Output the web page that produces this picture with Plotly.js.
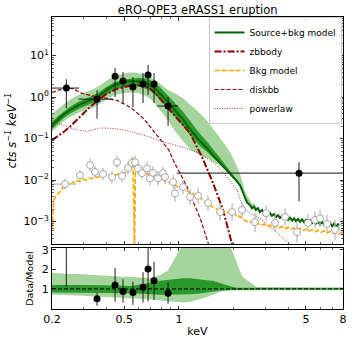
<!DOCTYPE html>
<html>
<head>
<meta charset="utf-8">
<script src="https://cdn.plot.ly/plotly-3.0.1.min.js"></script>
<style>
  body { margin: 0; background: white; }
  #chart { width: 353px; height: 344px; }
</style>
</head>
<body>
<div id="chart"></div>
<script>
// source spectrum, cts/s/keV
const srcE = [0.24, 0.354, 0.445, 0.492, 0.558, 0.634, 0.676, 0.729, 0.871, 4.58];
const srcRate = [1.65, 0.89, 3.2, 2.43, 1.74, 2.06, 3.4, 2.06, 0.61, 0.0147];
const srcElo = [0.20, 0.28, 0.435, 0.482, 0.548, 0.624, 0.666, 0.719, 0.757, 0.975];
const srcEhi = [0.282, 0.434, 0.455, 0.502, 0.568, 0.644, 0.686, 0.739, 0.99, 8.0];
const srcLo = [0.54, 0.30, 1.0, 0.70, 0.57, 0.72, 1.12, 0.72, 0.20, 0.0031];
const srcHi = [2.7, 1.47, 5.0, 4.0, 3.0, 3.8, 5.9, 3.8, 1.0, 0.027];

// data / model
const ratVal = [4.5, 0.49, 1.2, 0.87, 0.81, 1.09, 2.02, 1.42, 0.78, 12];
const ratLo = [1.1, 0.14, 0.34, 0.29, 0.19, 0.30, 0.36, 0.44, 0.24, 3.5];
const ratHi = [8, 0.80, 2.07, 1.5, 1.37, 1.86, 3.4, 2.39, 1.32, 20];

// background spectrum
const bkgE = [0.236, 0.285, 0.324, 0.345, 0.382, 0.428, 0.456, 0.486, 0.524, 0.551,
  0.573, 0.595, 0.626, 0.667, 0.693, 0.719, 0.767, 0.817, 0.838, 0.928,
  0.951, 1.053, 1.151, 1.274, 1.445, 1.683, 1.960, 2.224, 2.623, 3.02,
  3.380, 3.837, 4.467, 5.136, 5.612, 5.978, 6.535, 7.232, 7.902];
const bkgRate = [0.0080, 0.0130, 0.023, 0.0157, 0.0140, 0.0118, 0.027, 0.0125, 0.0195, 0.026,
  0.027, 0.019, 0.0147, 0.019, 0.011, 0.0150, 0.011, 0.0147, 0.0118, 0.0090,
  0.0048, 0.0068, 0.0039, 0.0042, 0.0028, 0.0017, 0.0017, 0.0019, 0.00097, 0.0016,
  0.00093, 0.0013, 0.00056, 0.00093, 0.0011, 0.0012, 0.00088, 0.00063, 0.00074];
const bkgErrUp = [0.35, 0.35, 0.45, 0.4, 0.4, 0.4, 0.45, 0.4, 0.45, 0.45,
  0.45, 0.45, 0.45, 0.45, 0.5, 0.45, 0.5, 0.45, 0.5, 0.5,
  0.6, 0.5, 0.55, 0.55, 0.55, 0.6, 0.6, 0.6, 0.7, 0.55,
  0.65, 0.6, 0.8, 0.65, 0.6, 0.6, 0.65, 0.75, 0.7];
const bkgErrDn = [0.25, 0.25, 0.3, 0.28, 0.28, 0.3, 0.3, 0.3, 0.3, 0.3,
  0.3, 0.3, 0.3, 0.3, 0.33, 0.3, 0.33, 0.3, 0.33, 0.33,
  0.38, 0.33, 0.36, 0.36, 0.36, 0.38, 0.38, 0.38, 0.42, 0.36,
  0.4, 0.38, 0.45, 0.4, 0.38, 0.38, 0.4, 0.44, 0.42];
const bkgEerr = [0.036, 0, 0, 0, 0, 0, 0, 0, 0, 0, 0, 0, 0, 0, 0, 0, 0, 0, 0, 0,
  0, 0, 0, 0, 0, 0, 0, 0, 0, 0, 0, 0, 0, 0, 0, 0, 0, 0, 0];

// source+bkg model
const modelE = [0.2, 0.215, 0.23, 0.25, 0.28, 0.31, 0.34, 0.37, 0.40, 0.44,
  0.49, 0.54, 0.59, 0.63, 0.69, 0.74, 0.79, 0.87, 0.95, 1.05,
  1.15, 1.3, 1.43, 1.55, 1.7, 1.9, 2.08, 2.17, 2.25, 2.31, 2.37,
  2.46, 2.52, 2.59, 2.65, 2.72, 2.79, 2.87, 2.94, 3.02, 3.10,
  3.17, 3.25, 3.34, 3.42, 3.51, 3.60, 3.69, 3.79, 3.89, 3.99,
  4.09, 4.20, 4.30, 4.41, 4.52, 4.64, 4.76, 4.88, 5.01, 5.14,
  5.27, 5.40, 5.54, 5.68, 5.83, 5.98, 6.14, 6.30, 6.46, 6.62,
  6.79, 6.97, 7.14, 7.33, 7.52, 7.71, 7.91, 8.0];
const modelRate = [0.21, 0.285, 0.37, 0.48, 0.64, 0.78, 0.92, 1.15, 1.50, 1.95,
  2.25, 2.40, 2.40, 2.30, 2.00, 1.60, 1.20, 0.76, 0.48, 0.29,
  0.17, 0.088, 0.058, 0.038, 0.025, 0.015, 0.0095, 0.0075, 0.0050, 0.0035, 0.0029,
  0.0025, 0.0021, 0.0023, 0.0019, 0.0021, 0.0017, 0.0019, 0.0016, 0.00175, 0.00145,
  0.0016, 0.00138, 0.00152, 0.00128, 0.00142, 0.00122, 0.00135, 0.00115, 0.00128, 0.00110,
  0.00124, 0.00106, 0.00120, 0.00103, 0.00116, 0.00099, 0.00113, 0.00097, 0.00110, 0.00094,
  0.00107, 0.00092, 0.00104, 0.00089, 0.00101, 0.00087, 0.00098, 0.00084, 0.00095, 0.00081,
  0.00092, 0.00078, 0.00089, 0.00076, 0.00086, 0.00072, 0.00083, 0.00074];

// uncertainty bands as model ratio (last value holds to 8 keV)
const band2Lo = [0.70, 0.70, 0.69, 0.68, 0.66, 0.64, 0.62, 0.61, 0.59, 0.57,
  0.55, 0.54, 0.52, 0.50, 0.47, 0.43, 0.40, 0.36, 0.32, 0.30,
  0.33, 0.45, 0.58, 0.72, 0.85, 0.92, 0.93, 0.93, 0.93, 0.93, 0.93,
  0.93, 0.93, 0.93, 0.93, 0.93, 0.93];
const band1Lo = [0.81, 0.81, 0.81, 0.81, 0.81, 0.80, 0.80, 0.80, 0.79, 0.79,
  0.78, 0.78, 0.76, 0.74, 0.72, 0.71, 0.70, 0.70, 0.70, 0.71,
  0.72, 0.76, 0.82, 0.87, 0.92, 0.95, 0.96, 0.97, 0.97, 0.97, 0.97,
  0.97, 0.97, 0.97, 0.97, 0.97, 0.97];
const band1Hi = [1.20, 1.20, 1.20, 1.20, 1.20, 1.20, 1.20, 1.20, 1.19, 1.17,
  1.15, 1.15, 1.20, 1.25, 1.30, 1.36, 1.42, 1.47, 1.51, 1.55,
  1.55, 1.50, 1.45, 1.40, 1.30, 1.15, 1.06, 1.04, 1.03, 1.03, 1.03,
  1.03, 1.03, 1.03, 1.03, 1.03, 1.03];
const band2Hi = [1.81, 1.80, 1.79, 1.78, 1.76, 1.74, 1.72, 1.71, 1.68, 1.66,
  1.63, 1.62, 1.60, 1.57, 1.55, 1.62, 1.72, 1.95, 2.55, 3.3,
  4.0, 4.7, 4.6, 4.3, 3.9, 3.3, 2.3, 1.9, 1.6, 1.5, 1.42,
  1.35, 1.27, 1.2, 1.14, 1.10, 1.08];

// background model
const bkgModE = [0.200, 0.205, 0.210, 0.216, 0.224, 0.230, 0.236, 0.242, 0.248, 0.254,
  0.261, 0.268, 0.275, 0.285, 0.296, 0.308, 0.320, 0.332, 0.345, 0.358,
  0.372, 0.387, 0.402, 0.417, 0.434, 0.450, 0.468, 0.486, 0.505, 0.524,
  0.538, 0.551, 0.558, 0.563, 0.569, 0.576, 0.595, 0.618, 0.642, 0.667,
  0.693, 0.719, 0.748, 0.777, 0.807, 0.838, 0.871, 0.904, 0.940, 0.976,
  1.014, 1.053, 1.094, 1.136, 1.180, 1.226, 1.274, 1.323, 1.374, 1.427,
  1.483, 1.541, 1.600, 1.662, 1.727, 1.794, 1.864, 1.936, 2.010, 2.088,
  2.169, 2.252, 2.340, 2.431, 2.525, 2.623, 2.720, 2.832, 2.942, 3.054,
  3.172, 3.296, 3.423, 3.557, 3.694, 3.837, 3.987, 4.141, 4.300, 4.467,
  4.640, 4.821, 5.008, 5.203, 5.404, 5.612, 5.830, 6.058, 6.292, 6.535,
  6.789, 7.051, 7.325, 7.608, 7.902, 8.0];
const bkgModRate = [0.00068, 0.0033, 0.0042, 0.0047, 0.0055, 0.0068, 0.0063, 0.0075, 0.0083, 0.0079,
  0.0090, 0.0086, 0.0097, 0.0093, 0.0105, 0.0100, 0.0112, 0.0108, 0.0120, 0.0116,
  0.0128, 0.0124, 0.0134, 0.0129, 0.0138, 0.0133, 0.0142, 0.0140, 0.0150, 0.0160,
  0.0190, 0.0240, 0.0350, 0.0002, 0.0002, 0.026, 0.024, 0.019, 0.016, 0.0135,
  0.0150, 0.0125, 0.0128, 0.0112, 0.0110, 0.0095, 0.0093, 0.0082, 0.0080, 0.0070,
  0.0068, 0.0060, 0.0058, 0.0051, 0.0050, 0.0043, 0.0041, 0.0036, 0.0032, 0.0027,
  0.0026, 0.0022, 0.0021, 0.0018, 0.0019, 0.0016, 0.0017, 0.0015, 0.0016, 0.0013,
  0.00135, 0.0011, 0.00105, 0.00095, 0.0010, 0.00088, 0.00092, 0.00080, 0.00088, 0.00076,
  0.00082, 0.00072, 0.00079, 0.00070, 0.00076, 0.00067, 0.00073, 0.00065, 0.00071, 0.00063,
  0.00069, 0.00061, 0.00066, 0.00059, 0.00064, 0.00057, 0.00062, 0.00055, 0.00060, 0.00053,
  0.00058, 0.00052, 0.00057, 0.00050, 0.00055, 0.00049];

// model components
const zbbE = [0.2, 0.23, 0.25, 0.285, 0.32, 0.36, 0.40, 0.46, 0.52, 0.56, 0.62, 0.69, 0.74, 0.79, 0.87, 0.98, 1.15, 1.34, 1.54, 1.75, 1.98];
const zbbRate = [0.092, 0.14, 0.19, 0.33, 0.55, 0.85, 1.2, 1.6, 1.85, 1.95, 1.9, 1.65, 1.25, 0.9, 0.55, 0.31, 0.135, 0.036, 0.0085, 0.0019, 0.00024];
const diskE = [0.2, 0.22, 0.24, 0.26, 0.29, 0.33, 0.37, 0.41, 0.46, 0.52, 0.56, 0.64, 0.69, 0.79, 0.88, 0.93, 1.01, 1.11, 1.15, 1.31, 1.43, 1.48];
const diskRate = [1.30, 1.5, 1.62, 1.6, 1.25, 1.08, 1.0, 0.9, 0.82, 0.62, 0.50, 0.30, 0.2, 0.10, 0.053, 0.030, 0.015, 0.0068, 0.0045, 0.0012, 0.00036, 0.00022];
const plE = [0.2, 0.215, 0.23, 0.25, 0.28, 0.31, 0.34, 0.37, 0.40, 0.46, 0.52, 0.59, 0.69, 0.79, 0.87, 1.05, 1.3, 1.55, 1.7, 1.9, 2.08, 2.2, 2.3, 2.46, 2.79, 3.17, 3.6, 4.0, 4.3];
const plRate = [0.27, 0.23, 0.21, 0.18, 0.16, 0.15, 0.165, 0.18, 0.18, 0.17, 0.155, 0.135, 0.11, 0.088, 0.078, 0.062, 0.044, 0.026, 0.018, 0.010, 0.0060, 0.0030, 0.0021, 0.0016, 0.0012, 0.00075, 0.00047, 0.0003, 0.0002];

const fac = (arr, i) => arr[Math.min(i, arr.length - 1)];

function band(xs, lo, hi, color, xa, ya) {
    return {
        x: xs.concat(xs.slice().reverse()),
        y: lo.concat(hi.slice().reverse()),
        xaxis: xa, yaxis: ya,
        type: 'scatter', mode: 'lines',
        fill: 'toself', fillcolor: color,
        line: { width: 0, color: color },
        hoverinfo: 'skip', showlegend: false
    };
}

const lightGreen = '#a5d49d';
const darkGreen = '#2b982b';

const top2Lo = modelE.map((e, i) => modelRate[i] * fac(band2Lo, i));
const top2Hi = modelE.map((e, i) => modelRate[i] * fac(band2Hi, i));
const top1Lo = modelE.map((e, i) => modelRate[i] * fac(band1Lo, i));
const top1Hi = modelE.map((e, i) => modelRate[i] * fac(band1Hi, i));
const rat2Lo = modelE.map((e, i) => fac(band2Lo, i));
const rat2Hi = modelE.map((e, i) => fac(band2Hi, i));
const rat1Lo = modelE.map((e, i) => fac(band1Lo, i));
const rat1Hi = modelE.map((e, i) => fac(band1Hi, i));

const data = [
    band(modelE, top2Lo, top2Hi, lightGreen, 'x', 'y'),
    band(modelE, top1Lo, top1Hi, darkGreen, 'x', 'y'),
    {
        x: plE, y: plRate, name: 'powerlaw', type: 'scatter', mode: 'lines',
        line: { color: '#b03a3a', width: 1, dash: '1px,1.5px' }, legendrank: 5
    },
    {
        x: diskE, y: diskRate, name: 'diskbb', type: 'scatter', mode: 'lines',
        line: { color: '#a00000', width: 1.2, dash: '4px,2px' }, legendrank: 4
    },
    {
        x: zbbE, y: zbbRate, name: 'zbbody', type: 'scatter', mode: 'lines',
        line: { color: '#8b0000', width: 2, dash: '7px,2px,2px,2px' }, legendrank: 2
    },
    {
        x: bkgModE, y: bkgModRate, name: 'Bkg model', type: 'scatter', mode: 'lines',
        line: { color: '#ffa500', width: 1.6, dash: '5px,2px' }, legendrank: 3
    },
    {
        x: modelE, y: modelRate, name: 'Source+bkg model', type: 'scatter', mode: 'lines',
        line: { color: '#006400', width: 2 }, legendrank: 1
    },
    {
        x: bkgE, y: bkgRate, type: 'scatter', mode: 'markers', showlegend: false,
        marker: { symbol: 'circle', size: 7, color: 'white', line: { color: '#a8a8a8', width: 1 } },
        error_y: {
            type: 'data', symmetric: false,
            array: bkgRate.map((v, i) => v * bkgErrUp[i]),
            arrayminus: bkgRate.map((v, i) => v * bkgErrDn[i]),
            color: '#b8b8b8', thickness: 1.2, width: 0
        },
        error_x: { type: 'data', array: bkgEerr, color: '#b8b8b8', thickness: 1.2, width: 0 }
    },
    {
        x: srcE, y: srcRate, type: 'scatter', mode: 'markers', showlegend: false,
        marker: { symbol: 'circle', size: 7, color: 'black' },
        error_y: {
            type: 'data', symmetric: false,
            array: srcHi.map((v, i) => v - srcRate[i]),
            arrayminus: srcLo.map((v, i) => srcRate[i] - v),
            color: 'rgba(20,20,20,0.8)', thickness: 1.2, width: 0
        },
        error_x: {
            type: 'data', symmetric: false,
            array: srcEhi.map((v, i) => v - srcE[i]),
            arrayminus: srcElo.map((v, i) => srcE[i] - v),
            color: 'rgba(20,20,20,0.8)', thickness: 1.2, width: 0
        }
    },
    band(modelE, rat2Lo, rat2Hi, lightGreen, 'x2', 'y2'),
    band(modelE, rat1Lo, rat1Hi, darkGreen, 'x2', 'y2'),
    {
        x: srcE, y: ratVal, xaxis: 'x2', yaxis: 'y2', type: 'scatter', mode: 'markers', showlegend: false,
        marker: { symbol: 'circle', size: 7, color: 'black' },
        error_y: {
            type: 'data', symmetric: false,
            array: ratHi.map((v, i) => v - ratVal[i]),
            arrayminus: ratLo.map((v, i) => ratVal[i] - v),
            color: 'rgba(20,20,20,0.8)', thickness: 1.2, width: 0
        }
    }
];

const tickFont = { family: 'DejaVu Sans', size: 11, color: 'black' };
const decadeMinor = [];
for (let p = -4; p <= 1; p++) {
    for (let m = 2; m <= 9; m++) decadeMinor.push(m * Math.pow(10, p));
}

const xCommon = {
    type: 'log',
    range: [Math.log10(0.2), Math.log10(8)],
    tickvals: [0.2, 0.5, 1, 5, 8],
    ticktext: ['0.2', '0.5', '1', '5', '8'],
    ticks: 'inside', ticklen: 3.5, tickcolor: 'black', tickwidth: 0.8,
    minor: { tickvals: [0.3, 0.4, 0.6, 0.7, 0.8, 0.9, 2, 3, 4, 6, 7], ticks: 'inside', ticklen: 2, tickcolor: 'black', tickwidth: 0.6 },
    showline: true, mirror: 'allticks', linecolor: 'black', linewidth: 1,
    showgrid: false, zeroline: false, tickfont: tickFont
};

const layout = {
    width: 353, height: 344,
    margin: { l: 52, r: 10, t: 17, b: 35 },
    paper_bgcolor: 'white', plot_bgcolor: 'white',
    font: { family: 'DejaVu Sans', color: 'black' },
    title: {
        text: 'eRO-QPE3 eRASS1 eruption',
        font: { family: 'DejaVu Sans', size: 11.5, color: 'black' },
        x: 0.56, xanchor: 'center', y: 0.972, yanchor: 'middle'
    },
    xaxis: Object.assign({}, xCommon, { anchor: 'y', showticklabels: false, domain: [0, 1] }),
    xaxis2: Object.assign({}, xCommon, {
        anchor: 'y2', domain: [0, 1], matches: 'x',
        title: { text: 'keV', font: { family: 'DejaVu Sans', size: 11 }, standoff: 2 }
    }),
    yaxis: {
        type: 'log', domain: [0.2226, 1], anchor: 'x',
        range: [-3.54, 1.93],
        tickvals: [0.001, 0.01, 0.1, 1, 10],
        ticktext: ['10<sup>−3</sup>', '10<sup>−2</sup>', '10<sup>−1</sup>', '10<sup>0</sup>', '10<sup>1</sup>'],
        ticks: 'inside', ticklen: 3.5, tickcolor: 'black', tickwidth: 0.8,
        minor: { tickvals: decadeMinor, ticks: 'inside', ticklen: 2, tickcolor: 'black', tickwidth: 0.6 },
        showline: true, mirror: 'allticks', linecolor: 'black', linewidth: 1,
        showgrid: false, zeroline: false, tickfont: tickFont,
        title: { text: '<i>cts s<sup>−1</sup> keV<sup>−1</sup></i>', font: { family: 'DejaVu Sans', size: 11.5 }, standoff: 4 }
    },
    yaxis2: {
        domain: [0, 0.209], anchor: 'x2',
        range: [-0.03, 3.1],
        tickvals: [1, 2, 3],
        ticks: 'inside', ticklen: 3.5, tickcolor: 'black', tickwidth: 0.8,
        showline: true, mirror: 'allticks', linecolor: 'black', linewidth: 1,
        showgrid: false, zeroline: false, tickfont: tickFont,
        title: { text: 'Data/Model', font: { family: 'DejaVu Sans', size: 9.5 }, standoff: 6 }
    },
    shapes: [{
        type: 'line', xref: 'x2 domain', x0: 0, x1: 1, yref: 'y2', y0: 1, y1: 1,
        line: { color: 'black', width: 1, dash: '4px,2px' }
    }],
    legend: {
        x: 0.995, xanchor: 'right', y: 1.0, yanchor: 'top',
        bgcolor: 'rgba(255,255,255,0.85)', bordercolor: '#cccccc', borderwidth: 1,
        font: { family: 'DejaVu Sans', size: 9, color: 'black' },
        tracegroupgap: 0
    },
    showlegend: true
};

Plotly.newPlot('chart', data, layout, { displayModeBar: false, staticPlot: true });
</script>
</body>
</html>
